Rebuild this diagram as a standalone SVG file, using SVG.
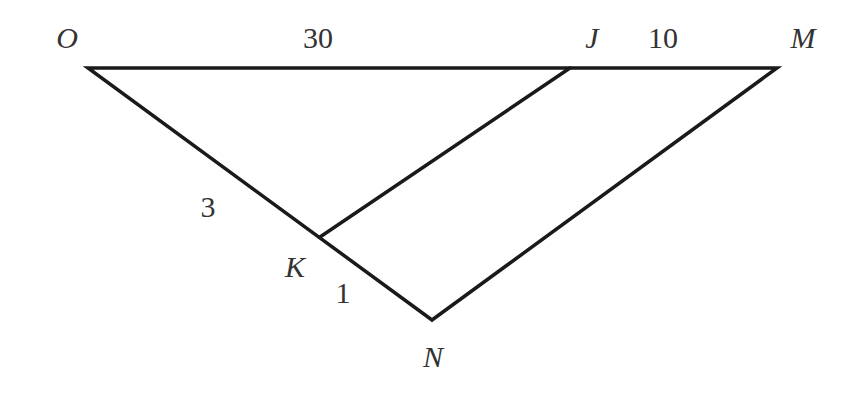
<svg xmlns="http://www.w3.org/2000/svg" width="862" height="400" viewBox="0 0 862 400">
<style>
.ln{stroke:#1a1a1a;stroke-width:3.5;fill:none;stroke-linejoin:miter;stroke-linecap:round}
.pt{font-style:italic;font-size:30px;fill:#333;text-anchor:middle}
.num{font-size:30px;fill:#333;text-anchor:middle}
</style>
<rect width="862" height="400" fill="#fff"/>
<g id="connectors">
<path class="ln" d="M88,68 L777,68 L432,320 Z"/>
<path class="ln" d="M570,68 L320,237"/>
</g>
<g font-family="'Liberation Serif', 'Times New Roman', serif">
<g id="O"><text class="pt" x="67" y="48">O</text></g>
<g id="J"><text class="pt" x="592" y="48">J</text></g>
<g id="M"><text class="pt" x="803" y="48">M</text></g>
<g id="K"><text class="pt" x="295" y="277">K</text></g>
<g id="N"><text class="pt" x="433" y="367">N</text></g>
<g id="labels">
<text class="num" x="318" y="48">30</text>
<text class="num" x="663" y="48">10</text>
<text class="num" x="208" y="217">3</text>
<text class="num" x="343" y="303">1</text>
</g>
</g>
</svg>
